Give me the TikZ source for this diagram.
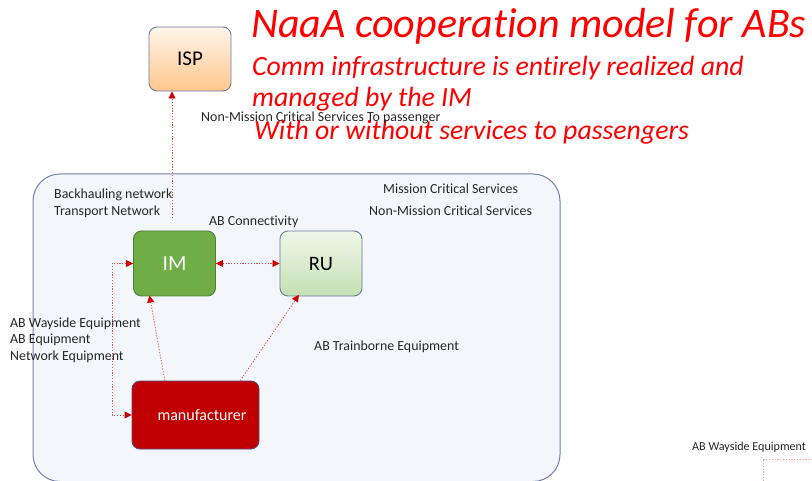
\documentclass[tikz,border=0pt]{standalone}
\usepackage{fontspec}
\setmainfont{Carlito}[Ligatures=NoCommon]
\usetikzlibrary{calc,arrows.meta}

\definecolor{linkred}{HTML}{E04A4A}
\definecolor{tipred}{HTML}{D00000}
\definecolor{titlered}{HTML}{FF0000}
\definecolor{framecol}{HTML}{7480A8}
\definecolor{areafill}{HTML}{F3F7FC}
\definecolor{boxedge}{HTML}{6A7A98}

\tikzset{
  box/.style={rounded corners=8pt, draw=boxedge, line width=0.9pt,
    minimum width=82pt, minimum height=65pt, inner sep=0pt},
  link/.style={draw=linkred, line width=0.8pt, dash pattern=on 1.2pt off 1.6pt,
    -{Triangle[length=7pt,width=7pt,fill=tipred,color=tipred]}},
  twolink/.style={link, {Triangle[length=7pt,width=7pt,fill=tipred,color=tipred]}-{Triangle[length=7pt,width=7pt,fill=tipred,color=tipred]}},
  small/.style={font=\fontsize{13.9}{16}\selectfont, text=black!85, inner sep=0pt, anchor=base west},
  heading/.style={text=titlered, inner sep=0pt, anchor=base west}
}

\begin{document}
\begin{tikzpicture}[x=1pt, y=-1pt]
\useasboundingbox (0,0) rectangle (812,481);

% operating area of the infrastructure manager
\begin{scope}
\clip (0,0) rectangle (812,481);
\draw[fill=areafill, draw=framecol, line width=1pt, rounded corners=27pt]
  (33,174) rectangle (560,481.5);
\end{scope}

% actors
\node[box, minimum width=82pt, minimum height=64pt, top color=orange!8!white,
  bottom color=orange!45!white, font=\fontsize{21}{24}\selectfont] (ISP) at (190,59) {ISP};
\node[box, fill={rgb,255:red,112;green,173;blue,71},
  draw={rgb,255:red,80;green,126;blue,50}, text=white, font=\fontsize{21.5}{24}\selectfont] (IM) at (174.5,263.5) {IM};
\node[box, top color={rgb,255:red,240;green,247;blue,234}, bottom color={rgb,255:red,197;green,224;blue,180},
  font=\fontsize{20.5}{24}\selectfont] (RU) at (321,263.5) {RU};
\node[box, minimum width=127pt, minimum height=68pt, fill={rgb,255:red,192;green,0;blue,0},
  draw={rgb,255:red,90;green,70;blue,120}, text=white, font=\fontsize{16}{19}\selectfont]
  (manu) at (195.5,415) {\hspace*{13pt}manufacturer};

% title block
\node[heading, font=\fontsize{42}{46}\itshape] (title) at (251,38) {NaaA cooperation model for ABs};
\node[heading, font=\fontsize{27.8}{30}\itshape] (sub1) at (252,76) {Comm infrastructure is entirely realized and};
\node[heading, font=\fontsize{27.8}{30}\itshape] (sub2) at (252,107) {managed by the IM};
\node[heading, font=\fontsize{27.8}{30}\itshape] (sub3) at (254,140) {With or without services to passengers};

% labels
\node[small] (lblpass) at (201,122) {Non-Mission Critical Services To passenger};
\node[small] (lblback) at (54,199) {Backhauling network};
\node[small] (lbltrans) at (54,216) {Transport Network};
\node[small] (lblmcs) at (383,194) {Mission Critical Services};
\node[small] (lblnmcs) at (369,216) {Non-Mission Critical Services};
\node[small] (lblconn) at (209,226) {AB Connectivity};
\node[small] (lblway) at (10,328) {AB Wayside Equipment};
\node[small] (lblabeq) at (10,344) {AB Equipment};
\node[small] (lblnet) at (10,360) {Network Equipment};
\node[small] (lbltrain) at (314,351) {AB Trainborne Equipment};
\node[small, font=\fontsize{12.1}{14}\selectfont] (lblway2) at (692,450) {AB Wayside Equipment};

% connectors
\coordinate (isptail) at (172,218);
\draw[link] (isptail) -- (isptail |- ISP.south);
\draw[twolink] (IM.east) -- (RU.west);
\coordinate (loopx) at (112,0);
\draw[twolink] (IM.west) -- (IM.west -| loopx) -- (manu.west -| loopx) -- (manu.west);
\draw[link, shorten >=-1pt] ($(manu.north west)!0.26!(manu.north east)$) -- ($(IM.south west)!0.2!(IM.south east)$);
\draw[link, shorten >=-2pt] ($(manu.north west)!0.85!(manu.north east)$) -- ($(RU.south west)!0.22!(RU.south east)$);

% edge of a neighbouring layout
\coordinate (nbcorner) at (763,459);
\draw[draw=linkred!50, line width=0.8pt, dash pattern=on 1.2pt off 1.6pt]
  (nbcorner |- 0,481) -- (nbcorner) -- (812,459);
\end{tikzpicture}
\end{document}
